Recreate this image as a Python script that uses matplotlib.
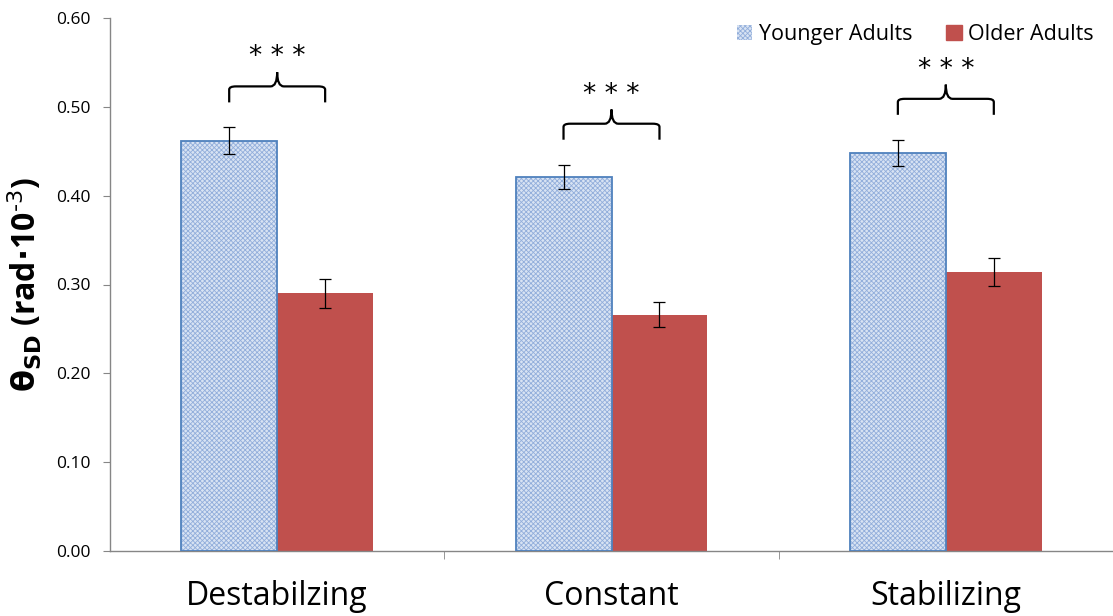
import matplotlib.pyplot as plt
import numpy as np
from matplotlib.patches import Patch, PathPatch
from matplotlib.path import Path

plt.rcParams['font.family'] = ['Open Sans', 'DejaVu Sans']
plt.rcParams['hatch.linewidth'] = 0.6

categories = ['Destabilzing', 'Constant', 'Stabilizing']
younger = [0.462, 0.421, 0.448]
younger_err = [0.015, 0.014, 0.015]
older = [0.290, 0.266, 0.314]
older_err = [0.016, 0.014, 0.016]
yticks = [0.0, 0.1, 0.2, 0.3, 0.4, 0.5, 0.6]

blue_edge = '#4f81bd'
blue_fill = '#d8e3f3'
blue_hatch = '#92aedb'
red = '#c0504d'
axis_grey = '#868686'

fig = plt.figure(figsize=(11.13, 6.16), dpi=100)
ax = fig.add_axes([110 / 1113, 65 / 616, 1003 / 1113, 533 / 616])

x = np.arange(len(categories))
w = 0.287

# younger adults: dotted texture then outline on top
ax.bar(x - w / 2, younger, w, color=blue_fill, edgecolor=blue_hatch,
       hatch='xxxxxxx', linewidth=0, zorder=2)
ax.bar(x - w / 2, younger, w, fill=False, edgecolor=blue_edge,
       linewidth=1.3, zorder=3)
ax.bar(x + w / 2, older, w, color=red, edgecolor=red, linewidth=0, zorder=2)

ax.errorbar(x - w / 2, younger, yerr=younger_err, fmt='none', ecolor='black',
            elinewidth=0.9, capsize=4, capthick=0.9, zorder=4)
ax.errorbar(x + w / 2, older, yerr=older_err, fmt='none', ecolor='black',
            elinewidth=0.9, capsize=4, capthick=0.9, zorder=4)


def brace(ax, x0, x1, y0, h=0.018, tip=0.034):
    xm = (x0 + x1) / 2
    r = 0.02
    verts = [
        (x0, y0), (x0, y0 + h * 0.8), (x0, y0 + h), (x0 + r, y0 + h),
        (xm - r, y0 + h), (xm, y0 + h), (xm, y0 + tip),
        (xm, y0 + h), (xm + r, y0 + h),
        (x1 - r, y0 + h), (x1, y0 + h), (x1, y0 + h * 0.8), (x1, y0),
    ]
    codes = [Path.MOVETO, Path.LINETO, Path.CURVE3, Path.CURVE3,
             Path.LINETO, Path.CURVE3, Path.CURVE3,
             Path.CURVE3, Path.CURVE3,
             Path.LINETO, Path.CURVE3, Path.CURVE3, Path.LINETO]
    ax.add_patch(PathPatch(Path(verts, codes), facecolor='none',
                           edgecolor='black', linewidth=1.6, zorder=5))
    ax.text(xm, y0 + tip + 0.002, '* * *', ha='center', va='bottom',
            fontsize=19, family='DejaVu Sans')


for i in range(len(categories)):
    base = younger[i] + younger_err[i] + 0.028
    brace(ax, x[i] - w / 2, x[i] + w / 2, base)

ax.set_xlim(-0.5, 2.5)
ax.set_ylim(0, 0.6)
ax.set_yticks(yticks)
ax.set_yticklabels([f'{v:.2f}' for v in yticks], fontsize=12.5)
ax.set_xticks(x)
ax.set_xticklabels(categories, fontsize=23)
ax.set_xticks([0.5, 1.5], minor=True)
ax.tick_params(axis='x', which='major', length=0, pad=21)
ax.tick_params(axis='x', which='minor', length=6, color=axis_grey)
ax.tick_params(axis='y', length=5, color=axis_grey, pad=9)

for side in ['top', 'right']:
    ax.spines[side].set_visible(False)
for side in ['left', 'bottom']:
    ax.spines[side].set_color(axis_grey)
    ax.spines[side].set_linewidth(1)

ax.set_ylabel(r'$\mathbf{\theta_{SD}}$ (rad$\mathbf{\cdot}$10$^{\text{-3}}$)',
              fontsize=23, fontweight='bold', labelpad=8)

handles = [
    Patch(facecolor=blue_fill, edgecolor=blue_hatch, hatch='xxxxxxx', linewidth=0),
    Patch(facecolor=red, edgecolor=red),
]
ax.legend(handles, ['Younger Adults', 'Older Adults'], ncol=2, loc='upper right',
          bbox_to_anchor=(1.0, 1.025), frameon=False, fontsize=15.5,
          handlelength=0.7, handleheight=0.7, handletextpad=0.3, columnspacing=1.6)

fig.savefig('out.png', dpi=100)
